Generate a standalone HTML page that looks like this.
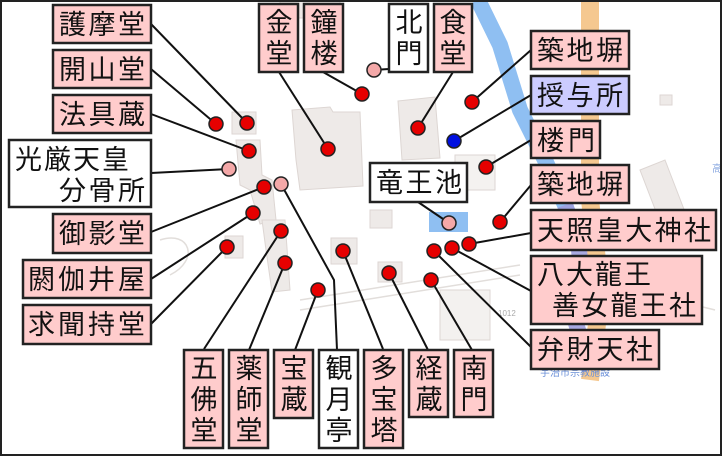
<!DOCTYPE html>
<html><head><meta charset="utf-8"><style>
html,body{margin:0;padding:0;background:#fff}
svg{display:block}
text{font-family:"Liberation Sans","Noto Sans CJK JP",sans-serif;font-size:27px;fill:#111}
</style></head><body>
<svg width="722" height="456" viewBox="0 0 722 456" xmlns="http://www.w3.org/2000/svg">
<rect x="0" y="0" width="722" height="456" fill="#fff"/>
<g fill="#eeeae8" stroke="#ddd6d3" stroke-width="1">
<polygon points="292,110 330,107 333,112 360,112 363,186 300,190 296,160"/>
<polygon points="398,101 435,97 440,158 402,160"/>
<rect x="232" y="112" width="24" height="22"/>
<polygon points="236,140 260,140 262,175 272,180 276,220 260,224 250,190 240,185"/>
<polygon points="262,220 285,220 290,290 272,292 266,250"/>
<rect x="331" y="238" width="26" height="26"/>
<rect x="370" y="210" width="22" height="18"/>
<rect x="378" y="262" width="24" height="20"/>
<rect x="455" y="155" width="40" height="35" fill="#f4f2f0"/>
<rect x="225" y="236" width="18" height="22"/>
<rect x="280" y="0" width="60" height="18"/>
<rect x="440" y="290" width="50" height="50" fill="#f3f1ef"/>
<polygon points="640,170 665,160 690,225 665,235"/>
<rect x="660" y="95" width="12" height="10"/>
</g>
<g fill="none" stroke="#e2dedb" stroke-width="1.5">
<path d="M160,240 C190,230 200,260 170,275"/>
<path d="M300,300 L520,265"/>
<path d="M300,310 L520,275"/>
<path d="M600,280 C640,300 680,300 715,310"/>
</g>
<polyline points="478,0 500,45 520,110 545,160 565,205 578,240" fill="none" stroke="#8fbff2" stroke-width="16"/>
<polyline points="590,0 590,200 597,260 600,300 595,340 590,380" fill="none" stroke="#f5c890" stroke-width="18"/>
<polyline points="565,205 578,240 582,280 575,320 590,370" fill="none" stroke="#9fa0de" stroke-width="16" opacity="0.9"/>
<rect x="429" y="212" width="39" height="20" fill="#8fbff2"/>
<text x="540" y="376" style="font-size:10px;fill:#6a8fd8">宇治市宗教施設</text>
<text x="498" y="316" style="font-size:8px;fill:#aaa">1012</text>
<text x="712" y="172" style="font-size:10px;fill:#8aa8e0">高</text>
<g stroke="#111" stroke-width="2" fill="none">
<line x1="151" y1="24" x2="247" y2="123"/>
<line x1="151" y1="69" x2="216" y2="124"/>
<line x1="151" y1="114" x2="249" y2="151"/>
<line x1="151" y1="173" x2="229" y2="169"/>
<line x1="151" y1="232" x2="264" y2="187"/>
<line x1="151" y1="279" x2="253" y2="213"/>
<line x1="151" y1="324" x2="227" y2="247"/>
<line x1="204" y1="349" x2="281" y2="231"/>
<line x1="249" y1="350" x2="285" y2="263"/>
<line x1="295" y1="350" x2="318" y2="290"/>
<polyline points="337,350 334,280 281,184"/>
<line x1="383" y1="349" x2="343" y2="251"/>
<line x1="428" y1="350" x2="389" y2="273"/>
<line x1="472" y1="350" x2="431" y2="280"/>
<line x1="531" y1="347" x2="434" y2="251"/>
<line x1="531" y1="291" x2="452" y2="248"/>
<line x1="531" y1="233" x2="469" y2="244"/>
<line x1="531" y1="185" x2="500" y2="222"/>
<line x1="531" y1="140" x2="486" y2="167"/>
<line x1="531" y1="95" x2="454" y2="141"/>
<line x1="531" y1="50" x2="472" y2="102"/>
<line x1="453" y1="72" x2="418" y2="128"/>
<line x1="389" y1="69" x2="374" y2="70"/>
<line x1="323" y1="72" x2="362" y2="94"/>
<line x1="279" y1="72" x2="328" y2="149"/>
<line x1="418" y1="202" x2="449" y2="223"/>
</g>
<g stroke="#222" stroke-width="1.5" fill="#e60000">
<circle cx="247" cy="123" r="7"/><circle cx="216" cy="124" r="7"/><circle cx="249" cy="151" r="7"/>
<circle cx="264" cy="187" r="7"/><circle cx="253" cy="213" r="7"/><circle cx="227" cy="247" r="7"/>
<circle cx="281" cy="231" r="7"/><circle cx="285" cy="263" r="7"/><circle cx="318" cy="290" r="7"/>
<circle cx="343" cy="251" r="7"/><circle cx="389" cy="273" r="7"/><circle cx="431" cy="280" r="7"/>
<circle cx="434" cy="251" r="7"/><circle cx="452" cy="248" r="7"/><circle cx="469" cy="244" r="7"/>
<circle cx="500" cy="222" r="7"/><circle cx="486" cy="167" r="7"/><circle cx="472" cy="102" r="7"/>
<circle cx="418" cy="128" r="7"/><circle cx="362" cy="94" r="7"/><circle cx="328" cy="149" r="7"/>
<circle cx="454" cy="141" r="7" fill="#0010e0"/>
<circle cx="229" cy="169" r="7" fill="#f4a8a8"/><circle cx="281" cy="184" r="7" fill="#f4a8a8"/>
<circle cx="374" cy="70" r="7" fill="#f4a8a8"/><circle cx="449" cy="223" r="7" fill="#f4a8a8"/>
</g>
<g stroke="#222" stroke-width="2.5" fill="#ffcccc">
<rect x="53" y="5" width="98" height="38"/>
<rect x="53" y="50" width="98" height="38"/>
<rect x="53" y="95" width="98" height="38"/>
<rect x="9" y="140" width="142" height="67" fill="#fff"/>
<rect x="53" y="214" width="98" height="39"/>
<rect x="23" y="260" width="128" height="38"/>
<rect x="23" y="305" width="128" height="39"/>
<rect x="184" y="350" width="39" height="98"/>
<rect x="229" y="350" width="39" height="98"/>
<rect x="274" y="350" width="39" height="68"/>
<rect x="319" y="350" width="39" height="98" fill="#fff"/>
<rect x="364" y="350" width="39" height="98"/>
<rect x="409" y="350" width="39" height="67"/>
<rect x="454" y="350" width="39" height="67"/>
<rect x="531" y="330" width="128" height="39"/>
<rect x="531" y="256" width="171" height="68"/>
<rect x="531" y="210" width="185" height="40"/>
<rect x="531" y="165" width="98" height="38"/>
<rect x="531" y="121" width="69" height="37"/>
<rect x="531" y="76" width="98" height="38" fill="#ccccff"/>
<rect x="531" y="31" width="98" height="38"/>
<rect x="434" y="4" width="38" height="68"/>
<rect x="389" y="4" width="39" height="68" fill="#fff"/>
<rect x="304" y="4" width="39" height="68"/>
<rect x="259" y="4" width="39" height="68"/>
<rect x="370" y="163" width="97" height="39" fill="#fff"/>
</g>
<g>
<text x="59" y="34" textLength="86">護摩堂</text>
<text x="59" y="79" textLength="86">開山堂</text>
<text x="59" y="124" textLength="86">法具蔵</text>
<text x="15" y="169" textLength="114">光厳天皇</text>
<text x="59" y="200" textLength="86">分骨所</text>
<text x="59" y="243" textLength="86">御影堂</text>
<text x="28" y="289" textLength="117">閼伽井屋</text>
<text x="28" y="334" textLength="117">求聞持堂</text>
<text x="537" y="359" textLength="116">弁財天社</text>
<text x="537" y="284" textLength="114">八大龍王</text>
<text x="552" y="315" textLength="144">善女龍王社</text>
<text x="537" y="240" textLength="174">天照皇大神社</text>
<text x="537" y="194" textLength="86">築地塀</text>
<text x="537" y="150" textLength="58">楼門</text>
<text x="537" y="105" textLength="86">授与所</text>
<text x="537" y="60" textLength="86">築地塀</text>
<text x="376" y="192" textLength="86">竜王池</text>
</g>
<g text-anchor="middle">
<text x="204" y="378">五</text><text x="204" y="409">佛</text><text x="204" y="440">堂</text>
<text x="249" y="378">薬</text><text x="249" y="409">師</text><text x="249" y="440">堂</text>
<text x="294" y="378">宝</text><text x="294" y="409">蔵</text>
<text x="339" y="378">観</text><text x="339" y="409">月</text><text x="339" y="440">亭</text>
<text x="384" y="378">多</text><text x="384" y="409">宝</text><text x="384" y="440">塔</text>
<text x="429" y="378">経</text><text x="429" y="409">蔵</text>
<text x="474" y="378">南</text><text x="474" y="409">門</text>
<text x="453" y="32">食</text><text x="453" y="63">堂</text>
<text x="409" y="32">北</text><text x="409" y="63">門</text>
<text x="324" y="32">鐘</text><text x="324" y="63">楼</text>
<text x="279" y="32">金</text><text x="279" y="63">堂</text>
</g>
<rect x="1" y="1" width="720" height="454" fill="none" stroke="#222" stroke-width="2"/>
</svg>
</body></html>
